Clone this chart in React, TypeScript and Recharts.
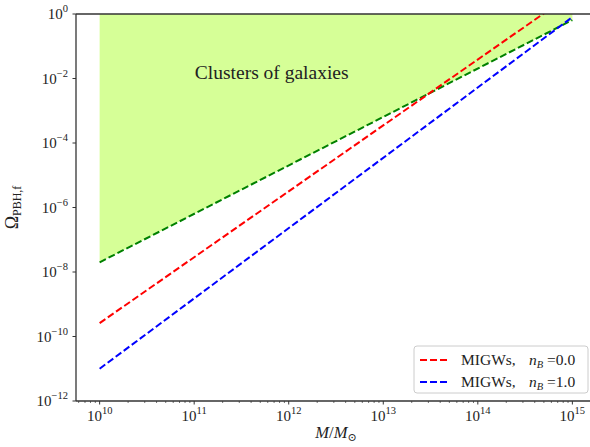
import {
  ComposedChart,
  Area,
  Line,
  XAxis,
  YAxis,
  ReferenceLine,
  ReferenceDot,
} from "recharts";

// halo mass M / M_sun
const masses = [1e10, 1e15];
// clusters of galaxies bound (lower edge of excluded band, green dashed)
const clusterLower = [2.0e-8, 0.65];
const clusterUpper = [1, 1];
// MIGWs curves
const migwsNB0 = [2.6e-10, 4.3];
const migwsNB1 = [1.0e-11, 0.8];

const xMajorTicks = [1e10, 1e11, 1e12, 1e13, 1e14, 1e15];
const yMajorTicks = [1, 1e-2, 1e-4, 1e-6, 1e-8, 1e-10, 1e-12];

const xMinorTicks: number[] = [];
for (let e = 9; e <= 14; e++) {
  for (let k = 2; k <= 9; k++) {
    const v = k * 10 ** e;
    if (v > 10 ** 9.75 && v < 10 ** 15.25) xMinorTicks.push(v);
  }
}
const xTicks = [...xMajorTicks, ...xMinorTicks].sort((a, b) => a - b);

const data = masses.map((m, i) => ({
  m,
  band: [clusterLower[i], clusterUpper[i]],
  lower: clusterLower[i],
  nB0: migwsNB0[i],
  nB1: migwsNB1[i],
}));

const FONT = "'Liberation Serif', 'DejaVu Serif', serif";
const AXIS = "#333";
const DASH = "7 3";

const isMajor = (v: number) => {
  const l = Math.log10(v);
  return Math.abs(l - Math.round(l)) < 1e-6;
};

const expLabel = (v: number) => {
  const e = Math.round(Math.log10(v));
  return e < 0 ? "\u2212" + Math.abs(e) : String(e);
};

const XTick = (props: any) => {
  const { x, y, payload } = props;
  const major = isMajor(payload.value);
  return (
    <g>
      <line x1={x} x2={x} y1={y} y2={y + (major ? 3.5 : 2)} stroke={AXIS} strokeWidth={major ? 1 : 0.7} />
      {major && (
        <text x={x} y={y + 20} textAnchor='middle' fontFamily={FONT} fontSize={15} fill='#222'>
          <tspan>10</tspan>
          <tspan dy={-7} fontSize={10.5}>{expLabel(payload.value)}</tspan>
        </text>
      )}
    </g>
  );
};

const YTick = (props: any) => {
  const { x, y, payload } = props;
  return (
    <g>
      <line x1={x - 3.5} x2={x} y1={y} y2={y} stroke={AXIS} strokeWidth={1} />
      <text x={x - 8} y={y + 5} textAnchor='end' fontFamily={FONT} fontSize={15} fill='#222'>
        <tspan>10</tspan>
        <tspan dy={-7} fontSize={10.5}>{expLabel(payload.value)}</tspan>
      </text>
    </g>
  );
};

const ClusterLabel = (props: any) => (
  <text x={props.cx} y={props.cy} textAnchor='middle' fontFamily={FONT} fontSize={19.5} fill='#222'>
    Clusters of galaxies
  </text>
);

const LegendBox = () => (
  <svg
    width={176}
    height={49}
    style={{ position: "absolute", left: 413, top: 345 }}
  >
    <rect x={1} y={1} width={174} height={47} rx={3} fill='rgba(255,255,255,0.8)' stroke='#ccc' strokeWidth={1} />
    {[
      { color: "red", label: "0.0", y: 15 },
      { color: "blue", label: "1.0", y: 37 },
    ].map((r) => (
      <g key={r.label}>
        <line x1={7} x2={37} y1={r.y} y2={r.y} stroke={r.color} strokeWidth={2} strokeDasharray={DASH} />
        <text x={48} y={r.y + 5} fontFamily={FONT} fontSize={15.5} fill='#222'>
          MIGWs,
        </text>
        <text x={116} y={r.y + 5} fontFamily={FONT} fontSize={15.5} fill='#222'>
          <tspan fontStyle='italic'>n</tspan>
          <tspan dy={3} fontSize={10.5} fontStyle='italic'>B</tspan>
          <tspan dy={-3}> =</tspan>
          <tspan>{r.label}</tspan>
        </text>
      </g>
    ))}
  </svg>
);

export default function App() {
  return (
    <div
      style={{
        position: "absolute",
        left: 0,
        top: 0,
        width: 590,
        height: 447,
        overflow: "hidden",
        background: "#fff",
      }}
    >
      <ComposedChart
        width={610}
        height={447}
        data={data}
        margin={{ top: 14, right: 14, bottom: 0, left: 0 }}
      >
        <XAxis
          dataKey='m'
          type='number'
          scale='log'
          domain={[10 ** 9.75, 10 ** 15.25]}
          allowDataOverflow
          ticks={xTicks}
          interval={0}
          height={46}
          tickSize={0}
          tickMargin={0}
          tickLine={false}
          axisLine={{ stroke: AXIS, strokeWidth: 1.3 }}
          tick={<XTick />}
          label={{
            content: (p: any) => {
              const vb = p.viewBox;
              return (
                <text x={vb.x + vb.width / 2} y={438} textAnchor='middle' fontFamily={FONT} fontSize={16.5} fill='#222'>
                  <tspan fontStyle='italic'>M</tspan>
                  <tspan>/</tspan>
                  <tspan fontStyle='italic'>M</tspan>
                  <tspan dy={3} fontSize={11}>⊙</tspan>
                </text>
              );
            },
          }}
        />
        <YAxis
          type='number'
          scale='log'
          domain={[1e-12, 1]}
          allowDataOverflow
          ticks={yMajorTicks}
          interval={0}
          width={76}
          tickSize={0}
          tickMargin={0}
          tickLine={false}
          axisLine={{ stroke: AXIS, strokeWidth: 1.3 }}
          tick={<YTick />}
          label={{
            content: (p: any) => {
              const vb = p.viewBox;
              const cy = vb.y + vb.height / 2;
              return (
                <text x={18} y={cy} transform={`rotate(-90 18 ${cy})`} textAnchor='middle' fontFamily={FONT} fontSize={18} fill='#222'>
                  <tspan>Ω</tspan>
                  <tspan dy={3} fontSize={12}>PBH,f</tspan>
                </text>
              );
            },
          }}
        />
        <Area
          dataKey='band'
          type='linear'
          stroke='none'
          fill='#adff2f'
          fillOpacity={0.5}
          isAnimationActive={false}
          dot={false}
          activeDot={false}
        />
        <Line
          dataKey='lower'
          type='linear'
          stroke='green'
          strokeWidth={2}
          strokeDasharray={DASH}
          dot={false}
          activeDot={false}
          isAnimationActive={false}
        />
        <Line
          dataKey='nB0'
          type='linear'
          stroke='red'
          strokeWidth={2}
          strokeDasharray={DASH}
          dot={false}
          activeDot={false}
          isAnimationActive={false}
        />
        <Line
          dataKey='nB1'
          type='linear'
          stroke='blue'
          strokeWidth={2}
          strokeDasharray={DASH}
          dot={false}
          activeDot={false}
          isAnimationActive={false}
        />
        <ReferenceLine y={1} stroke={AXIS} strokeWidth={1.3} />
        <ReferenceDot x={10 ** 11.82} y={1e-2} r={0} shape={<ClusterLabel />} />
      </ComposedChart>
      <LegendBox />
    </div>
  );
}
